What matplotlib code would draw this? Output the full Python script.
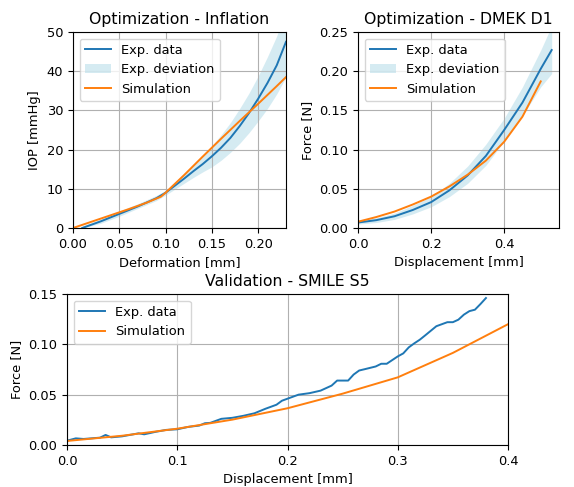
import numpy as np
import matplotlib
matplotlib.use("Agg")
import matplotlib.pyplot as plt

plt.rcParams["font.size"] = 9.4
plt.rcParams["axes.titlesize"] = 11.3
plt.rcParams["lines.linewidth"] = 1.4

# Inflation (optimisation)
infl_exp_x = [0.010, 0.03, 0.05, 0.07, 0.09, 0.10, 0.11, 0.12, 0.13, 0.14, 0.15,
              0.16, 0.17, 0.18, 0.19, 0.20, 0.21, 0.22, 0.23]
infl_exp_y = [0.0, 1.7, 3.6, 5.5, 7.6, 9.0, 10.8, 12.6, 14.5, 16.3, 18.3,
              20.5, 23.0, 26.0, 29.3, 33.0, 37.0, 41.5, 47.5]
infl_dev_lo = [0.0, 1.2, 3.0, 5.0, 7.0, 8.4, 9.9, 11.4, 12.9, 14.3, 15.6,
               17.3, 19.3, 21.6, 24.3, 27.3, 30.5, 34.2, 38.5]
infl_dev_hi = [0.5, 2.3, 4.3, 6.2, 8.3, 9.6, 11.8, 13.8, 16.0, 18.4, 21.0,
               23.8, 26.9, 30.5, 34.4, 38.8, 43.7, 49.0, 56.0]
infl_sim_x = [0.0, 0.02, 0.04, 0.06, 0.08, 0.095, 0.10, 0.12, 0.14, 0.16, 0.18, 0.20, 0.22, 0.23]
infl_sim_y = [0.0, 1.6, 3.2, 4.8, 6.5, 8.0, 9.0, 13.5, 18.2, 22.8, 27.3, 31.7, 36.2, 38.5]

# DMEK D1 (optimisation)
dmek_exp_x = [0.0, 0.05, 0.10, 0.15, 0.20, 0.25, 0.30, 0.35, 0.40, 0.45, 0.50, 0.53]
dmek_exp_y = [0.007, 0.010, 0.015, 0.023, 0.033, 0.048, 0.067, 0.092, 0.125, 0.160, 0.203, 0.227]
dmek_dev_lo = [0.005, 0.007, 0.011, 0.018, 0.027, 0.040, 0.057, 0.080, 0.111, 0.143, 0.180, 0.197]
dmek_dev_hi = [0.010, 0.013, 0.019, 0.029, 0.040, 0.057, 0.079, 0.107, 0.140, 0.180, 0.227, 0.258]
dmek_sim_x = [0.0, 0.05, 0.10, 0.15, 0.20, 0.25, 0.30, 0.35, 0.40, 0.45, 0.50]
dmek_sim_y = [0.008, 0.014, 0.021, 0.030, 0.040, 0.053, 0.068, 0.086, 0.110, 0.142, 0.187]

# SMILE S5 (validation)
smile_exp_x = [0.0, 0.008, 0.015, 0.03, 0.035, 0.04, 0.05, 0.065, 0.07, 0.08, 0.09, 0.10,
               0.11, 0.12, 0.125, 0.13, 0.14, 0.15, 0.16, 0.17, 0.18, 0.19, 0.195, 0.20,
               0.21, 0.22, 0.23, 0.24, 0.245, 0.255, 0.26, 0.265, 0.27, 0.28, 0.285, 0.29,
               0.30, 0.305, 0.31, 0.315, 0.32, 0.325, 0.33, 0.335, 0.34, 0.345, 0.35, 0.355,
               0.36, 0.365, 0.37, 0.375, 0.38]
smile_exp_y = [0.0043, 0.0066, 0.006, 0.0073, 0.010, 0.0076, 0.0086, 0.0116, 0.0106, 0.013,
               0.015, 0.0156, 0.018, 0.0193, 0.0216, 0.022, 0.026, 0.027, 0.029, 0.0315,
               0.036, 0.040, 0.044, 0.046, 0.050, 0.0515, 0.054, 0.059, 0.064, 0.064, 0.070,
               0.074, 0.0753, 0.078, 0.0807, 0.0807, 0.088, 0.091, 0.097, 0.101, 0.1046,
               0.109, 0.1135, 0.118, 0.120, 0.122, 0.122, 0.1245, 0.1295, 0.133, 0.1344,
               0.140, 0.146]
smile_sim_x = [0.0, 0.05, 0.10, 0.15, 0.20, 0.25, 0.30, 0.35, 0.40]
smile_sim_y = [0.004, 0.0092, 0.0162, 0.0252, 0.0365, 0.051, 0.0672, 0.0915, 0.120]

W, H = 574, 487
fig = plt.figure(figsize=(W / 100, H / 100), dpi=100)


def box(x0, x1, y0, y1):
    return [x0 / W, 1 - y1 / H, (x1 - x0) / W, (y1 - y0) / H]


band_kw = dict(color="lightblue", alpha=0.5, lw=0)

ax1 = fig.add_axes(box(73, 286, 32, 228))
ax1.plot(infl_exp_x, infl_exp_y, color="tab:blue", label="Exp. data")
ax1.fill_between(infl_exp_x, infl_dev_lo, infl_dev_hi, label="Exp. deviation", **band_kw)
ax1.plot(infl_sim_x, infl_sim_y, color="tab:orange", label="Simulation")
ax1.set_xlim(0, 0.23)
ax1.set_ylim(0, 50)
ax1.set_xticks([0, 0.05, 0.10, 0.15, 0.20])
ax1.set_title("Optimization - Inflation")
ax1.set_xlabel("Deformation [mm]")
ax1.set_ylabel("IOP [mmHg]")
ax1.legend(loc="upper left")
ax1.grid(True)

ax2 = fig.add_axes(box(358, 559, 32, 228))
ax2.plot(dmek_exp_x, dmek_exp_y, color="tab:blue", label="Exp. data")
ax2.fill_between(dmek_exp_x, dmek_dev_lo, dmek_dev_hi, label="Exp. deviation", **band_kw)
ax2.plot(dmek_sim_x, dmek_sim_y, color="tab:orange", label="Simulation")
ax2.set_xlim(0, 0.55)
ax2.set_ylim(0, 0.25)
ax2.set_title("Optimization - DMEK D1")
ax2.set_xlabel("Displacement [mm]")
ax2.set_ylabel("Force [N]")
ax2.legend(loc="upper left")
ax2.grid(True)

ax3 = fig.add_axes(box(67, 508, 294, 445))
ax3.plot(smile_exp_x, smile_exp_y, color="tab:blue", label="Exp. data")
ax3.plot(smile_sim_x, smile_sim_y, color="tab:orange", label="Simulation")
ax3.set_xlim(0, 0.4)
ax3.set_ylim(0, 0.15)
ax3.set_xticks([0, 0.1, 0.2, 0.3, 0.4])
ax3.set_title("Validation - SMILE S5")
ax3.set_xlabel("Displacement [mm]")
ax3.set_ylabel("Force [N]")
ax3.legend(loc="upper left")
ax3.grid(True)

fig.savefig("out.png", dpi=100)
